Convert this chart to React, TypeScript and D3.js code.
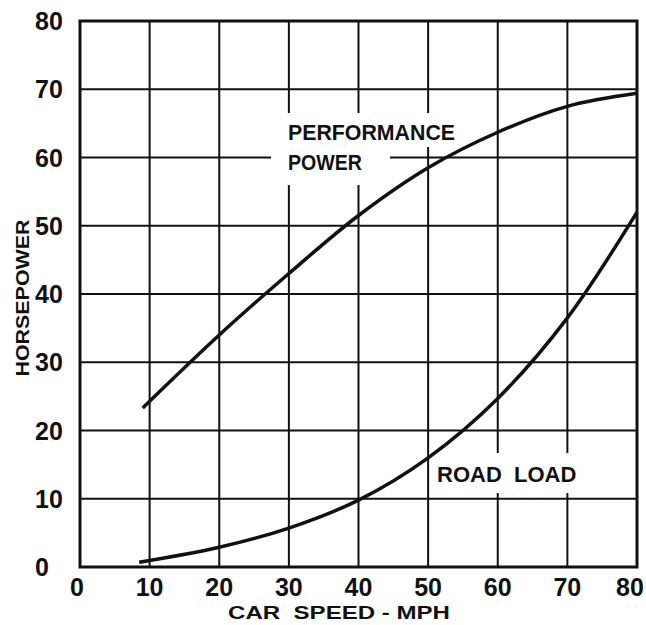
import React from "react";
import * as d3 from "d3";

// chart values
const speedTicks = [0, 10, 20, 30, 40, 50, 60, 70, 80];
const hpTicks = [0, 10, 20, 30, 40, 50, 60, 70, 80];

const performanceSpeed = [9, 20, 30, 40, 50, 60, 70, 80];
const performanceHp = [23.3, 34, 43, 51.5, 58.5, 63.7, 67.5, 69.4];

const roadSpeed = [8.5, 20, 30, 40, 50, 60, 70, 80];
const roadHp = [0.7, 2.9, 5.7, 9.8, 16, 24.7, 36.5, 52];

const W = 646;
const H = 625;
const left = 80;
const right = 637;
const top = 21;
const bottom = 567;

const font = "'Liberation Sans', Arial, sans-serif";

export default function App() {
  const x = d3.scaleLinear().domain([0, 80]).range([left, right]);
  const y = d3.scaleLinear().domain([0, 80]).range([bottom, top]);

  const line = d3
    .line<[number, number]>()
    .x((d) => x(d[0]))
    .y((d) => y(d[1]))
    .curve(d3.curveCatmullRom.alpha(0.5));

  const perf = performanceSpeed.map((s, i) => [s, performanceHp[i]] as [number, number]);
  const road = roadSpeed.map((s, i) => [s, roadHp[i]] as [number, number]);

  const inner = speedTicks.filter((t) => t > 0 && t < 80);
  const innerY = hpTicks.filter((t) => t > 0 && t < 80);

  return (
    <svg
      width={W}
      height={H}
      style={{ position: "absolute", left: 0, top: 0, background: "#fff" }}
    >
      <rect x={0} y={0} width={W} height={H} fill="#fff" />
      <g stroke="#111" strokeWidth={2}>
        {inner.map((t) => (
          <line key={"v" + t} x1={x(t)} x2={x(t)} y1={top} y2={bottom} />
        ))}
        {innerY.map((t) => (
          <line key={"h" + t} x1={left} x2={right} y1={y(t)} y2={y(t)} />
        ))}
      </g>
      {/* white boxes behind the curve labels */}
      <rect x={280} y={113} width={180} height={34} fill="#fff" />
      <rect x={271} y={147} width={119} height={38} fill="#fff" />
      <rect x={432} y={453} width={146} height={40} fill="#fff" />

      <rect
        x={left}
        y={top}
        width={right - left}
        height={bottom - top}
        fill="none"
        stroke="#111"
        strokeWidth={3}
      />

      <path d={line(perf) || ""} fill="none" stroke="#111" strokeWidth={3.5} />
      <path d={line(road) || ""} fill="none" stroke="#111" strokeWidth={3.5} />

      <g fontFamily={font} fontWeight="bold" fill="#111">
        <text x={288} y={140} fontSize={22} textLength={167} lengthAdjust="spacingAndGlyphs">
          PERFORMANCE
        </text>
        <text x={288} y={170} fontSize={22} textLength={74} lengthAdjust="spacingAndGlyphs">
          POWER
        </text>
        <text x={437} y={482} fontSize={22} xmlSpace="preserve">
          ROAD  LOAD
        </text>

        {hpTicks.map((t) => (
          <text key={"yl" + t} x={35} y={y(t) + 9} fontSize={25}>
            {t}
          </text>
        ))}
        {speedTicks.map((t) => (
          <text
            key={"xl" + t}
            x={t === 80 ? x(t) - 7 : t === 0 ? x(t) - 3 : x(t)}
            y={596}
            fontSize={25}
            textAnchor="middle"
          >
            {t}
          </text>
        ))}
        <text
          x={339}
          y={619}
          fontSize={19}
          textAnchor="middle"
          textLength={222}
          lengthAdjust="spacingAndGlyphs"
          xmlSpace="preserve"
        >
          CAR  SPEED - MPH
        </text>
        <text
          transform="translate(29,298) rotate(-90)"
          fontSize={18}
          textAnchor="middle"
          textLength={157}
          lengthAdjust="spacingAndGlyphs"
        >
          HORSEPOWER
        </text>
      </g>
    </svg>
  );
}
